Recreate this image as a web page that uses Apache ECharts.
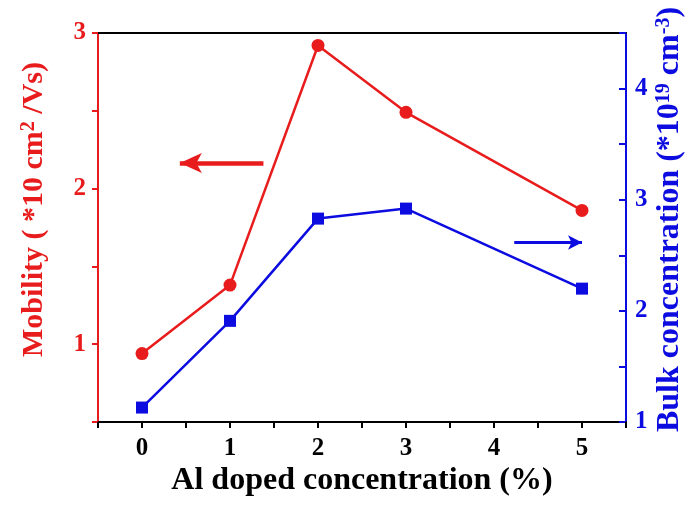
<!DOCTYPE html>
<html>
<head>
<meta charset="utf-8">
<script src="https://cdn.jsdelivr.net/npm/echarts@6/dist/echarts.min.js"></script>
<style>
  html, body { margin: 0; padding: 0; background: #fff; }
  #chart { width: 691px; height: 508px; }
</style>
</head>
<body>
<div id="chart"></div>
<script>
// Al doping (%) on x
var alDoping = [0, 1, 2, 3, 5];
// mobility, *10 cm2/Vs (left axis)
var mobility = [0.94, 1.38, 2.92, 2.49, 1.86];
// bulk carrier concentration, *10^19 cm-3 (right axis)
var bulkConc = [1.13, 1.91, 2.83, 2.92, 2.20];

// arrows pointing at each axis, in data units: [xFrom, xTo, y]
var mobilityArrow = [1.38, 0.43, 2.165];
var bulkArrow = [4.23, 5.0, 2.615];

var RED = '#e81c1c';
var BLUE = '#0c0ce0';
var FONT = "'Liberation Serif', 'Times New Roman', serif";

function pairs(xs, ys) {
    var out = [];
    for (var i = 0; i < xs.length; i++) {
        out.push([xs[i], ys[i]]);
    }
    return out;
}

function intLabel(v) {
    return Math.abs(v - Math.round(v)) < 1e-6 ? String(Math.round(v)) : '';
}

var chart = echarts.init(document.getElementById('chart'));

var option = {
    animation: false,
    backgroundColor: '#fff',
    grid: {
        left: 98,
        right: 65,
        top: 33,
        bottom: 86,
        outerBoundsMode: 'none'
    },
    xAxis: [{
        type: 'value',
        min: -0.5,
        max: 5.5,
        interval: 0.5,
        name: 'Al doped concentration (%)',
        nameLocation: 'middle',
        nameGap: 43,
        nameMoveOverlap: false,
        nameTextStyle: { color: '#000', fontFamily: FONT, fontWeight: 'bold', fontSize: 32 },
        axisLine: { onZero: false, lineStyle: { color: '#000', width: 2 } },
        axisTick: { inside: false, length: 6, lineStyle: { color: '#000', width: 2 } },
        axisLabel: { formatter: intLabel, color: '#000', fontFamily: FONT, fontWeight: 'bold', fontSize: 25, margin: 14 },
        splitLine: { show: false }
    }, {
        type: 'value',
        position: 'top',
        min: -0.5,
        max: 5.5,
        axisLine: { onZero: false, lineStyle: { color: '#000', width: 2 } },
        axisTick: { show: false },
        axisLabel: { show: false },
        splitLine: { show: false }
    }],
    yAxis: [{
        type: 'value',
        position: 'left',
        min: 0.5,
        max: 3,
        interval: 0.5,
        name: 'Mobility ( *10 cm{sup|2} /Vs)',
        nameLocation: 'middle',
        nameGap: 49,
        nameMoveOverlap: false,
        nameTextStyle: {
            color: RED, fontFamily: FONT, fontWeight: 'bold', fontSize: 30,
            padding: [0, 0, 0, 36],
            rich: {
                sup: { color: RED, fontFamily: FONT, fontWeight: 'bold', fontSize: 20, verticalAlign: 'top' }
            }
        },
        axisLine: { show: true, onZero: false, lineStyle: { color: RED, width: 2 } },
        axisTick: { show: true, inside: false, length: 6, lineStyle: { color: RED, width: 2 } },
        axisLabel: { formatter: intLabel, color: RED, fontFamily: FONT, fontWeight: 'bold', fontSize: 25, margin: 12 },
        splitLine: { show: false }
    }, {
        type: 'value',
        position: 'right',
        min: 1,
        max: 4.5,
        interval: 0.5,
        name: 'Bulk concentration (*10{sup|19} cm{sup|-3})',
        nameLocation: 'middle',
        nameGap: 28,
        nameMoveOverlap: false,
        nameTextStyle: {
            color: BLUE, fontFamily: FONT, fontWeight: 'bold', fontSize: 32,
            padding: [0, 0, 0, 16],
            rich: {
                sup: { color: BLUE, fontFamily: FONT, fontWeight: 'bold', fontSize: 20, verticalAlign: 'top' }
            }
        },
        axisLine: { show: true, onZero: false, lineStyle: { color: BLUE, width: 2 } },
        axisTick: { show: true, inside: true, length: 7, lineStyle: { color: BLUE, width: 2 } },
        axisLabel: { formatter: intLabel, color: BLUE, fontFamily: FONT, fontWeight: 'bold', fontSize: 25, margin: 9 },
        splitLine: { show: false }
    }],
    series: [{
        name: 'Bulk concentration',
        type: 'line',
        yAxisIndex: 1,
        data: pairs(alDoping, bulkConc),
        symbol: 'rect',
        symbolSize: 12,
        itemStyle: { color: BLUE },
        lineStyle: { color: BLUE, width: 2.5 },
        markLine: {
            silent: true,
            symbol: ['none', 'arrow'],
            symbolSize: [11, 14],
            label: { show: false },
            lineStyle: { color: BLUE, width: 3, type: 'solid' },
            data: [[
                { coord: [bulkArrow[0], bulkArrow[2]] },
                { coord: [bulkArrow[1], bulkArrow[2]] }
            ]]
        }
    }, {
        name: 'Mobility',
        type: 'line',
        yAxisIndex: 0,
        data: pairs(alDoping, mobility),
        symbol: 'circle',
        symbolSize: 13,
        itemStyle: { color: RED },
        lineStyle: { color: RED, width: 2.5 },
        markLine: {
            silent: true,
            symbol: ['none', 'arrow'],
            symbolSize: [15, 22],
            label: { show: false },
            lineStyle: { color: RED, width: 4.5, type: 'solid' },
            data: [[
                { coord: [mobilityArrow[0], mobilityArrow[2]] },
                { coord: [mobilityArrow[1], mobilityArrow[2]] }
            ]]
        }
    }]
};

chart.setOption(option);
</script>
</body>
</html>
